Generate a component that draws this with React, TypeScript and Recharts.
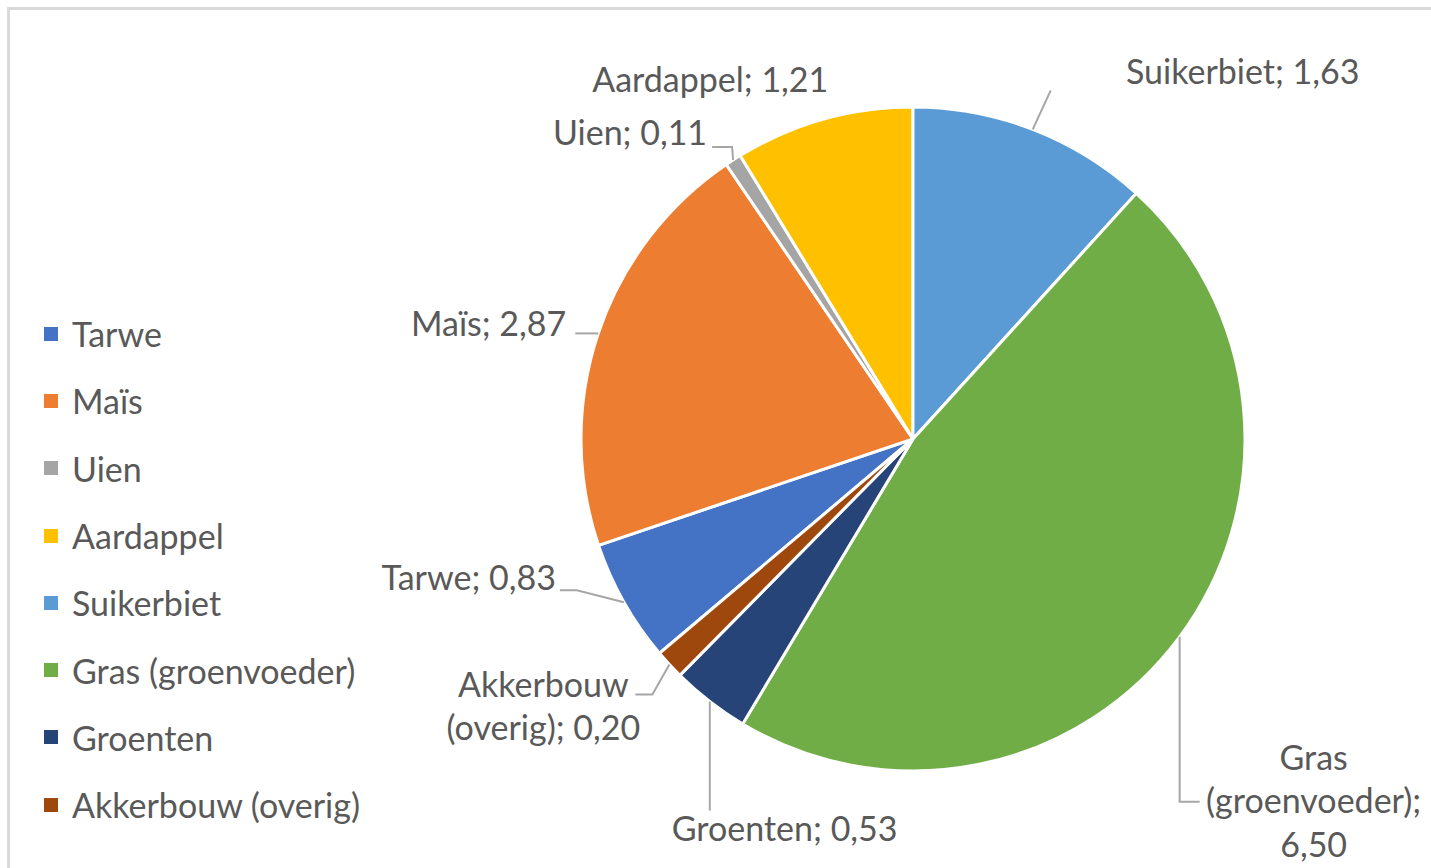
import React from "react";
import { PieChart, Pie, Cell, Legend } from "recharts";

// Areaal per gewas (values as printed on the data labels)
const crops = [
  "Tarwe",
  "Maïs",
  "Uien",
  "Aardappel",
  "Suikerbiet",
  "Gras (groenvoeder)",
  "Groenten",
  "Akkerbouw (overig)",
];
const values = [0.83, 2.87, 0.11, 1.21, 1.63, 6.5, 0.53, 0.2];
const colors = [
  "#4472C4",
  "#ED7D31",
  "#A5A5A5",
  "#FFC000",
  "#5B9BD5",
  "#70AD47",
  "#264478",
  "#9E480E",
];

const data = crops.map((name, i) => ({ name, value: values[i] }));

// first slice is rotated so that Suikerbiet starts at 12 o'clock
const total = values.reduce((a, b) => a + b, 0);
const beforeSuikerbiet = values.slice(0, crops.indexOf("Suikerbiet")).reduce((a, b) => a + b, 0);
const START_ANGLE = 90 + (beforeSuikerbiet / total) * 360;

const TEXT = "#595959";
const LEADER = "#a6a6a6";
const FONT = "Lato, 'Open Sans', sans-serif";
const FONT_SIZE = 34;

// label placement relative to the point on the rim at the slice's mid angle
type LabelLayout = {
  dx: number;
  dy: number;
  anchor: "start" | "middle" | "end";
  lines?: number[]; // words per line
  leader?: [number, number][];
};

const labelLayout: Record<string, LabelLayout> = {
  Tarwe: { dx: -68, dy: -26, anchor: "end", leader: [[-47, -12], [-64, -12]] },
  "Maïs": { dx: -32, dy: -11, anchor: "end", leader: [[-7, 0], [-23, 0]] },
  Uien: { dx: -26, dy: -29, anchor: "end", leader: [[-1, -13], [-21, -13]] },
  Aardappel: { dx: -113, dy: -41, anchor: "middle" },
  Suikerbiet: { dx: 210, dy: -59, anchor: "middle", leader: [[18, -39]] },
  "Gras (groenvoeder)": { dx: 134, dy: 119, anchor: "middle", lines: [1, 1, 1], leader: [[0, 165], [20, 165]] },
  Groenten: { dx: -38, dy: 125, anchor: "start", leader: [[0, 109]] },
  "Akkerbouw (overig)": { dx: -126, dy: 18, anchor: "middle", lines: [1, 2], leader: [[-17, 30], [-34, 30]] },
};

const LINE_HEIGHT = 43.5;
const RAD = Math.PI / 180;

const fmt = (v: number) => v.toFixed(2).replace(".", ",");

const renderLabel = (props: any) => {
  const { cx, cy, midAngle, outerRadius, index } = props;
  const name = crops[index];
  const layout = labelLayout[name];
  const ax = cx + outerRadius * Math.cos(-midAngle * RAD);
  const ay = cy + outerRadius * Math.sin(-midAngle * RAD);

  const text = `${name}; ${fmt(values[index])}`;
  let rows = [text];
  if (layout.lines) {
    const words = text.split(" ");
    rows = [];
    let k = 0;
    layout.lines.forEach((n) => {
      rows.push(words.slice(k, k + n).join(" "));
      k += n;
    });
  }

  const path = layout.leader
    ? `M${ax},${ay}` + layout.leader.map(([x, y]) => `L${ax + x},${ay + y}`).join("")
    : null;

  return (
    <g key={`lbl-${index}`}>
      {path && <path d={path} stroke={LEADER} strokeWidth={2} fill="none" />}
      <text
        x={ax + layout.dx}
        y={ay + layout.dy}
        textAnchor={layout.anchor}
        dominantBaseline="central"
        fill={TEXT}
        fontFamily={FONT}
        fontSize={FONT_SIZE}
      >
        {rows.map((r, i) => (
          <tspan key={i} x={ax + layout.dx} dy={i === 0 ? 0 : LINE_HEIGHT}>
            {r}
          </tspan>
        ))}
      </text>
    </g>
  );
};

const renderLegend = (props: any) => {
  // keep series order (Recharts sorts legend items by name)
  const payload = [...props.payload].sort(
    (a: any, b: any) => crops.indexOf(a.value) - crops.indexOf(b.value)
  );
  return (
    <div>
      {payload.map((entry: any) => {
        const i = crops.indexOf(entry.value);
        return (
          <div
            key={entry.value}
            style={{ height: 67.3, display: "flex", alignItems: "center" }}
          >
            <span
              style={{
                display: "inline-block",
                width: 14,
                height: 14,
                background: colors[i],
                marginRight: 14,
              }}
            />
            <span style={{ color: TEXT, fontFamily: FONT, fontSize: FONT_SIZE }}>
              {entry.value}
            </span>
          </div>
        );
      })}
    </div>
  );
};

export default function App() {
  return (
    <div style={{ position: "relative", width: 1431, height: 868, overflow: "hidden", background: "#fff" }}>
      <style>{"body{margin:0;overflow:hidden}"}</style>
      <div
        style={{
          position: "absolute",
          left: 7,
          top: 7,
          width: 1600,
          height: 1000,
          border: "3px solid #d9d9d9",
        }}
      />
      <div style={{ position: "absolute", left: 0, top: 0 }}>
        <PieChart width={1431} height={868} margin={{ top: 0, right: 0, bottom: 0, left: 0 }}>
          <Pie
            data={data}
            dataKey="value"
            nameKey="name"
            cx={913}
            cy={439}
            outerRadius={332}
            startAngle={START_ANGLE}
            endAngle={START_ANGLE - 360}
            stroke="#ffffff"
            strokeWidth={3}
            label={renderLabel}
            labelLine={false}
            isAnimationActive={false}
          >
            {data.map((d, i) => (
              <Cell key={d.name} fill={colors[i]} />
            ))}
          </Pie>
          <Legend
            layout="vertical"
            align="center"
            verticalAlign="middle"
            content={renderLegend}
            wrapperStyle={{ left: 44, top: 300, width: 380 }}
          />
        </PieChart>
      </div>
    </div>
  );
}
